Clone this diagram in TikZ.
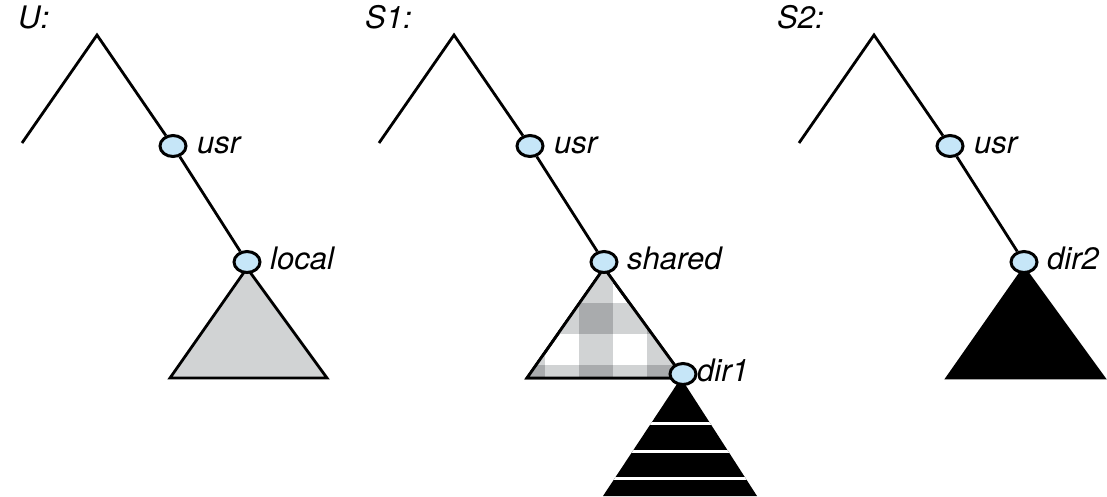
\documentclass[tikz,border=0pt]{standalone}
\usepackage{fontspec}
\setmainfont{TeX Gyre Heros}
\usetikzlibrary{shapes.geometric}
\definecolor{dirblue}{HTML}{C6E6F8}
\definecolor{plaidlight}{HTML}{D1D3D4}
\definecolor{plaiddark}{HTML}{A9ABAD}
\tikzset{
  dirnode/.style={ellipse,draw,line width=3pt,fill=dirblue,minimum width=26pt,minimum height=21pt,inner sep=0pt},
  dirname/.style={anchor=base west,inner sep=0pt,font=\fontsize{31}{36}\selectfont\itshape},
  branch/.style={line width=2.8pt},
  subtree/.style={draw,line width=2.8pt}
}

\begin{document}
\begin{tikzpicture}[x=1pt,y=-1pt]
\useasboundingbox (0,0) rectangle (1107,496);
% mount names
\node[dirname] (mU) at (18,28) {U:};
\node[dirname] (mS1) at (365,28) {S1:};
\node[dirname] (mS2) at (777,28) {S2:};
% subtrees under the mount points
\foreach \dx/\m/\tone in {0/U/plaidlight,357/S1/white,777/S2/black}
{
  \begin{scope}[xshift=\dx pt]
    \coordinate (top\m) at (97,35);
    \coordinate (end\m) at (22,143);
    \draw[subtree,fill=\tone] (247,268) coordinate (tip\m) -- (327,378) coordinate (br\m)
      -- (170,378) coordinate (bl\m) -- cycle;
  \end{scope}
}
% checked pattern of the shared tree
\begin{scope}
  \clip (tipS1) -- (brS1) -- (blS1) -- cycle;
  \foreach \x in {511,579,647} \fill[plaidlight] (\x,260) rectangle ++(34,130);
  \foreach \y in {303,365} \fill[plaidlight] (500,\y) rectangle ++(200,31);
  \foreach \x in {511,579,647}
    \foreach \y in {303,365} \fill[plaiddark] (\x,\y) rectangle ++(34,31);
\end{scope}
\draw[subtree] (tipS1) -- (brS1) -- (blS1) -- cycle;
% dir1 subtree, striped
\fill[black] (681,378) coordinate (tipD) -- (757,496) coordinate (brD) -- (603,496) coordinate (blD) -- cycle;
\begin{scope}
  \clip (tipD) -- (brD) -- (blD) -- cycle;
  \foreach \y in {423,451,478} \draw[white,line width=3pt] (590,\y) -- (770,\y);
\end{scope}
% directories
\foreach \dx/\m/\sub in {0/U/local,357/S1/shared,777/S2/dir2}
{
  \begin{scope}[xshift=\dx pt]
    \node[dirnode] (usr\m) at (173,146) {};
    \node[dirnode] (sub\m) at (247,262) {};
    \node[dirname] (usrtxt\m) at (197,153) {usr};
    \node[dirname] (subtxt\m) at (270,269) {\sub};
  \end{scope}
  \draw[branch] (end\m) -- (top\m) -- (usr\m) -- (sub\m);
}
\node[dirnode] (dirone) at (683,374) {};
\node[dirname] (dironetxt) at (697,381) {dir1};
\end{tikzpicture}
\end{document}
